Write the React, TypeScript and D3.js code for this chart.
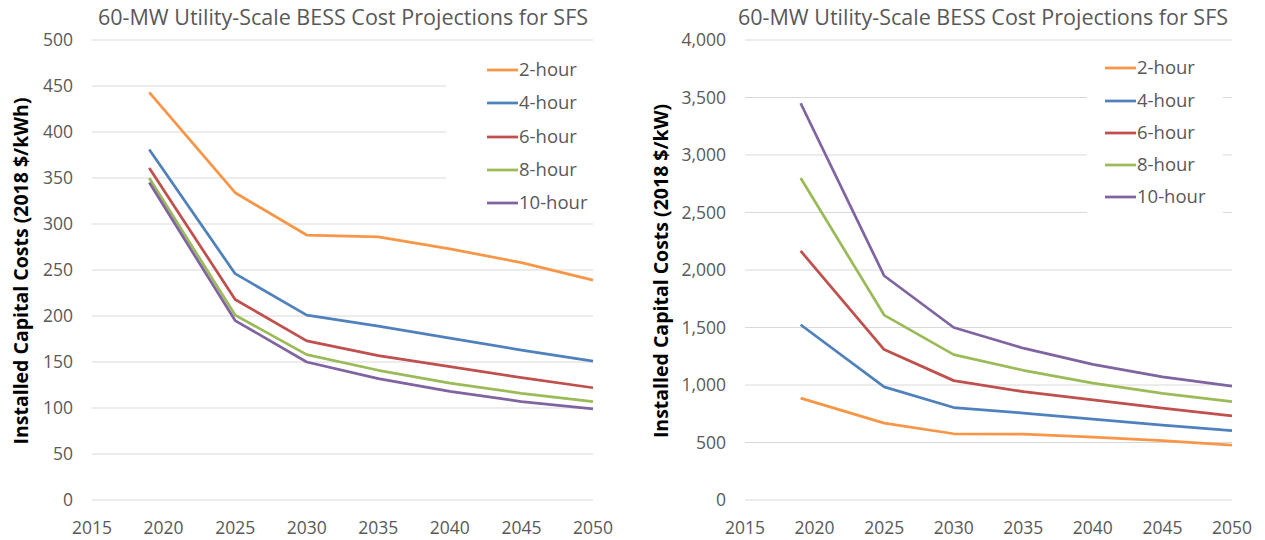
import React from "react";
import * as d3 from "d3";

const years = [2019, 2025, 2030, 2035, 2040, 2045, 2050];
const seriesNames = ["2-hour", "4-hour", "6-hour", "8-hour", "10-hour"];
const seriesColors = ["#F79646", "#4F81BD", "#C0504D", "#9BBB59", "#8064A2"];

// $/kWh
const kwh2 = [443, 334, 288, 286, 273, 258, 239];
const kwh4 = [381, 246, 201, 189, 176, 163, 151];
const kwh6 = [361, 218, 173, 157, 145, 133, 122];
const kwh8 = [350, 201, 158, 141, 127, 116, 107];
const kwh10 = [345, 195, 150, 132, 118, 107, 99];

// $/kW
const kw2 = [886, 668, 576, 572, 546, 516, 478];
const kw4 = [1524, 984, 804, 756, 704, 652, 604];
const kw6 = [2166, 1308, 1038, 942, 870, 798, 732];
const kw8 = [2800, 1608, 1264, 1128, 1016, 928, 856];
const kw10 = [3450, 1950, 1500, 1320, 1180, 1070, 990];

const xTicks = [2015, 2020, 2025, 2030, 2035, 2040, 2045, 2050];
const leftYTicks = [0, 50, 100, 150, 200, 250, 300, 350, 400, 450, 500];
const rightYTicks = [0, 500, 1000, 1500, 2000, 2500, 3000, 3500, 4000];

const titleText = "60-MW Utility-Scale BESS Cost Projections for SFS";
const leftYTitle = "Installed Capital Costs (2018 $/kWh)";
const rightYTitle = "Installed Capital Costs (2018 $/kW)";

const FONT = "'Open Sans', 'Noto Sans', sans-serif";
const GREY = "#595959";

type PanelProps = {
  series: number[][];
  yTicks: number[];
  yMax: number;
  x0: number;
  x1: number;
  yTitle: string;
  yTitleX: number;
  titleX: number;
  legendX: number;
  legendY: number[];
  legendBox: [number, number, number, number];
};

function Panel(p: PanelProps) {
  const x = d3.scaleLinear().domain([2015, 2050]).range([p.x0, p.x1]);
  const y = d3.scaleLinear().domain([0, p.yMax]).range([500, 40]);
  const fmt = d3.format(",");
  const line = d3
    .line<number>()
    .x((_, i) => x(years[i]))
    .y((v) => y(v));
  return (
    <g>
      <text
        x={p.titleX}
        y={25}
        textAnchor="middle"
        fontFamily={FONT}
        fontSize={21.5}
        fill={GREY}
      >
        {titleText}
      </text>
      {p.yTicks.map((t) => (
        <g key={t}>
          <line
            x1={p.x0}
            x2={p.x1}
            y1={y(t)}
            y2={y(t)}
            stroke="#D9D9D9"
            strokeWidth={1}
          />
          <text
            x={p.x0 - 19}
            y={y(t)}
            dy="0.35em"
            textAnchor="end"
            fontFamily={FONT}
            fontSize={17.5}
            fill={GREY}
          >
            {fmt(t)}
          </text>
        </g>
      ))}
      {xTicks.map((t) => (
        <text
          key={t}
          x={x(t)}
          y={528}
          dy="0.35em"
          textAnchor="middle"
          fontFamily={FONT}
          fontSize={17.5}
          fill={GREY}
        >
          {t}
        </text>
      ))}
      <text
        transform={`translate(${p.yTitleX},271) rotate(-90)`}
        textAnchor="middle"
        dy="0.35em"
        fontFamily={FONT}
        fontSize={19.5}
        fontWeight="bold"
        fill="#000"
      >
        {p.yTitle}
      </text>
      {p.series.map((s, i) => (
        <path
          key={i}
          d={line(s) || ""}
          fill="none"
          stroke={seriesColors[i]}
          strokeWidth={2.75}
          strokeLinejoin="round"
        />
      ))}
      <rect
        x={p.legendBox[0]}
        y={p.legendBox[1]}
        width={p.legendBox[2]}
        height={p.legendBox[3]}
        fill="#fff"
      />
      {seriesNames.map((n, i) => (
        <g key={n}>
          <line
            x1={p.legendX}
            x2={p.legendX + 31}
            y1={p.legendY[i]}
            y2={p.legendY[i]}
            stroke={seriesColors[i]}
            strokeWidth={2.75}
          />
          <text
            x={p.legendX + 32}
            y={p.legendY[i]}
            dy="0.35em"
            fontFamily={FONT}
            fontSize={18.5}
            fill={GREY}
          >
            {n}
          </text>
        </g>
      ))}
    </g>
  );
}

export default function App() {
  return (
    <svg
      width={1265}
      height={540}
      style={{ position: "absolute", left: 0, top: 0, background: "#fff" }}
    >
      <rect x={0} y={0} width={1265} height={540} fill="#fff" />
      <Panel
        series={[kwh2, kwh4, kwh6, kwh8, kwh10]}
        yTicks={leftYTicks}
        yMax={500}
        x0={92}
        x1={593}
        yTitle={leftYTitle}
        yTitleX={21}
        titleX={343}
        legendX={487}
        legendY={[70, 103, 137, 170, 203]}
        legendBox={[446, 55, 160, 162]}
      />
      <Panel
        series={[kw2, kw4, kw6, kw8, kw10]}
        yTicks={rightYTicks}
        yMax={4000}
        x0={745}
        x1={1232}
        yTitle={rightYTitle}
        yTitleX={661}
        titleX={983}
        legendX={1105}
        legendY={[68, 101, 133, 165, 197]}
        legendBox={[1087, 55, 136, 160]}
      />
    </svg>
  );
}
